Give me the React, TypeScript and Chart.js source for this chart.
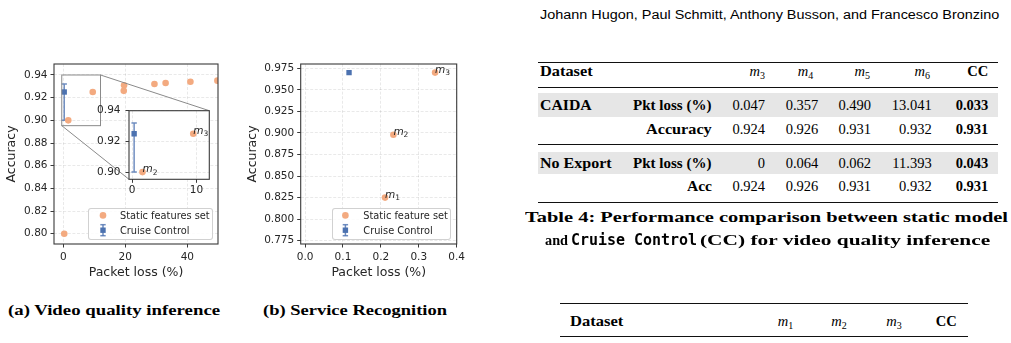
import React, { useEffect, useRef } from 'react';
import { Chart, registerables } from 'chart.js';
Chart.register(...registerables);

// ---------- (a) Video quality inference ----------
const staticLossA = [0.3, 1.6, 9.5, 19.5, 19.6, 29.4, 33.0, 41.0, 49.7];
const staticAccA = [0.800, 0.900, 0.925, 0.926, 0.931, 0.932, 0.933, 0.934, 0.935];
const staticLabelsA = ['', 'm2', 'm3', '', '', '', '', '', ''];
const ccLossA = [0.3];
const ccAccA = [0.925];
const ccErrLowA = [0.900];
const ccErrHighA = [0.932];
const xTicksA = [0, 20, 40];
const yTicksA = [0.80, 0.82, 0.84, 0.86, 0.88, 0.90, 0.92, 0.94];
const xRangeA = [-3, 49.9];
const yRangeA = [0.7909, 0.9497];
const zoomX = [-0.5, 12];
const zoomY = [0.8953, 0.94];
const insetXTicks = [0, 10];
const insetYTicks = [0.90, 0.92, 0.94];

// ---------- (b) Service Recognition ----------
const staticLossB = [0.211, 0.233, 0.343];
const staticAccB = [0.825, 0.898, 0.970];
const staticLabelsB = ['m1', 'm2', 'm3'];
const ccLossB = [0.116];
const ccAccB = [0.970];
const xTicksB = [0, 0.1, 0.2, 0.3, 0.4];
const yTicksB = [0.775, 0.8, 0.825, 0.85, 0.875, 0.9, 0.925, 0.95, 0.975];
const xRangeB = [-0.0115, 0.4];
const yRangeB = [0.7712, 0.980];

// ---------- Table 4 ----------
const table4Subs = ['3', '4', '5', '6'];
const caidaLoss = ['0.047', '0.357', '0.490', '13.041', '0.033'];
const caidaAcc = ['0.924', '0.926', '0.931', '0.932', '0.931'];
const noExportLoss = ['0', '0.064', '0.062', '11.393', '0.043'];
const noExportAcc = ['0.924', '0.926', '0.931', '0.932', '0.931'];
const table5Subs = ['1', '2', '3'];

const ORANGE = 'rgb(243,170,128)';
const BLUE = '#4c72b0';
const BLUE_ERR = 'rgba(76,114,176,0.8)';
const INK = '#262626';
const SERIF = '"Liberation Serif", "Times New Roman", serif';
const SANS = '"Liberation Sans", Arial, sans-serif';
const MONO = '"DejaVu Sans Mono", monospace';

const A_POS = { left: 0, top: 50, w: 228, h: 240 };
const IN_POS = { left: 90, top: 100, w: 125, h: 100 };
const B_POS = { left: 240, top: 50, w: 225, h: 240 };

function axis(o: any) {
  return {
    type: 'linear',
    position: o.isX ? 'bottom' : 'left',
    bounds: 'data',
    min: o.range[0],
    max: o.range[1],
    afterBuildTicks: (s: any) => { s.ticks = o.ticks.map((v: number) => ({ value: v })); },
    afterFit: (s: any) => {
      if (o.isX) { s.height = o.size; s.paddingLeft = 0; s.paddingRight = 0; }
      else { s.width = o.size; s.paddingTop = 0; s.paddingBottom = 0; }
    },
    ticks: {
      autoSkip: false, maxRotation: 0, minRotation: 0,
      padding: o.tickPad ?? 3, color: INK,
      font: { family: 'DejaVu Sans', size: 10.5 },
      callback: (v: any) => Number(v).toFixed(o.dec),
    },
    grid: {
      color: 'rgba(0,0,0,0.11)', lineWidth: 0.8, drawTicks: true,
      tickLength: 3.5, tickWidth: 1, tickColor: '#3a3a3a', tickBorderDash: [],
    },
    border: { display: false, dash: [3, 1.6] },
    title: o.title
      ? { display: true, text: o.title, color: INK, font: { family: 'DejaVu Sans', size: 12.5 }, padding: o.titlePad }
      : { display: false },
  };
}

const framePlugin = {
  id: 'frame',
  afterDraw(chart: any) {
    const { ctx, chartArea: a } = chart;
    ctx.save();
    ctx.strokeStyle = '#3a3a3a';
    ctx.lineWidth = 1.1;
    ctx.strokeRect(a.left, a.top, a.right - a.left, a.bottom - a.top);
    ctx.restore();
  },
};

const whiteBg = {
  id: 'whiteBg',
  beforeDraw(chart: any) {
    const { ctx, chartArea: a } = chart;
    ctx.save();
    ctx.fillStyle = '#ffffff';
    ctx.fillRect(a.left, a.top, a.right - a.left, a.bottom - a.top);
    ctx.restore();
  },
};

const errorBars = (xs: number[], lows: number[], highs: number[]) => ({
  id: 'errorBars',
  beforeDatasetsDraw(chart: any) {
    const { ctx, chartArea: a, scales: { x, y } } = chart;
    ctx.save();
    ctx.beginPath();
    ctx.rect(a.left, a.top, a.right - a.left, a.bottom - a.top);
    ctx.clip();
    ctx.strokeStyle = BLUE_ERR;
    ctx.lineWidth = 1.5;
    xs.forEach((xv, i) => {
      const px = x.getPixelForValue(xv);
      const y1 = y.getPixelForValue(lows[i]);
      const y2 = y.getPixelForValue(highs[i]);
      ctx.beginPath();
      ctx.moveTo(px, y1); ctx.lineTo(px, y2);
      ctx.moveTo(px - 2.7, y1); ctx.lineTo(px + 2.7, y1);
      ctx.moveTo(px - 2.7, y2); ctx.lineTo(px + 2.7, y2);
      ctx.stroke();
    });
    ctx.restore();
  },
});

const pointLabels = (xs: number[], ys: number[], labels: string[]) => ({
  id: 'pointLabels',
  afterDatasetsDraw(chart: any) {
    const { ctx, chartArea: a, scales: { x, y } } = chart;
    ctx.save();
    ctx.fillStyle = INK;
    ctx.textAlign = 'left';
    ctx.textBaseline = 'alphabetic';
    labels.forEach((lab, i) => {
      if (!lab) return;
      const px = x.getPixelForValue(xs[i]);
      const py = y.getPixelForValue(ys[i]);
      if (px < a.left || px > a.right || py < a.top || py > a.bottom) return;
      ctx.font = 'italic 10.5px "DejaVu Sans"';
      ctx.fillText(lab[0], px, py);
      const w = ctx.measureText(lab[0]).width;
      ctx.font = '7.5px "DejaVu Sans"';
      ctx.fillText(lab.slice(1), px + w, py + 2.5);
    });
    ctx.restore();
  },
});

const zoomMarks = (inset: any) => ({
  id: 'zoomMarks',
  afterDatasetsDraw(chart: any) {
    const { ctx, scales: { x, y } } = chart;
    const l = x.getPixelForValue(zoomX[0]);
    const r = x.getPixelForValue(zoomX[1]);
    const t = y.getPixelForValue(zoomY[1]);
    const b = y.getPixelForValue(zoomY[0]);
    const ia = inset.chartArea;
    const dx = IN_POS.left - A_POS.left;
    const dy = IN_POS.top - A_POS.top;
    ctx.save();
    ctx.strokeStyle = '#8a8a8a';
    ctx.lineWidth = 1;
    ctx.strokeRect(l, t, r - l, b - t);
    ctx.beginPath();
    ctx.moveTo(r, t); ctx.lineTo(ia.right + dx, ia.top + dy);
    ctx.moveTo(l, b); ctx.lineTo(ia.left + dx, ia.bottom + dy);
    ctx.stroke();
    ctx.restore();
  },
});

function scatterData(sx: number[], sy: number[], cx: number[], cy: number[]) {
  return {
    datasets: [
      {
        label: 'Static features set',
        data: sx.map((v, i) => ({ x: v, y: sy[i] })),
        pointBackgroundColor: ORANGE, backgroundColor: ORANGE,
        pointBorderWidth: 0, borderWidth: 0, pointRadius: 3.3, clip: 0,
      },
      {
        label: 'Cruise Control',
        data: cx.map((v, i) => ({ x: v, y: cy[i] })),
        pointBackgroundColor: BLUE, backgroundColor: BLUE,
        pointBorderWidth: 0, borderWidth: 0, pointStyle: 'rect', pointRadius: 3.8, clip: 0,
      },
    ],
  };
}

const baseOpts = (padding: any, scales: any) => ({
  responsive: false,
  animation: false,
  events: [],
  layout: { padding },
  plugins: { legend: { display: false }, tooltip: { enabled: false } },
  scales,
});

// --------- text helpers ----------
const mctx = typeof document !== 'undefined' ? document.createElement('canvas').getContext('2d') : null;
function textW(t: string, font: string) {
  if (!mctx) return 0;
  mctx.font = font;
  return mctx.measureText(t).width;
}

function Fit({ x, cy, w, size, weight = 'normal', family = SERIF, segs, color = '#000' }: any) {
  const total = segs.reduce((s: number, g: any) => s + textW(g.t, `${g.weight || weight} ${size}px ${g.family || family}`), 0);
  const sx = total > 0 ? w / total : 1;
  return (
    <div style={{
      position: 'absolute', left: x, top: cy - size / 2, height: size, lineHeight: `${size}px`,
      fontSize: size, whiteSpace: 'pre', transform: `scaleX(${sx})`, transformOrigin: '0 0', color,
    }}>
      {segs.map((g: any, i: number) => (
        <span key={i} style={{ fontFamily: g.family || family, fontWeight: g.weight || weight }}>{g.t}</span>
      ))}
    </div>
  );
}

function RCell({ r, cy, size = 14.5, bold = false, children }: any) {
  return (
    <div style={{
      position: 'absolute', right: 1011 - r, top: cy - size / 2, height: size, lineHeight: `${size}px`,
      fontSize: size, fontFamily: SERIF, fontWeight: bold ? 'bold' : 'normal', whiteSpace: 'nowrap', textAlign: 'right', color: '#000',
    }}>{children}</div>
  );
}

function MathM({ sub }: any) {
  return (
    <span>
      <span style={{ fontStyle: 'italic' }}>m</span>
      <span style={{ fontSize: 10, position: 'relative', top: 3 }}>{sub}</span>
    </span>
  );
}

function Rule({ x1, x2, y, t }: any) {
  return <div style={{ position: 'absolute', left: x1, top: y - t / 2, width: x2 - x1, height: t, background: '#111' }} />;
}

function Band({ x1, x2, y1, y2 }: any) {
  return <div style={{ position: 'absolute', left: x1, top: y1, width: x2 - x1, height: y2 - y1, background: '#e6e6e6' }} />;
}

function Legend({ left, top, width, height, markerCx, textX, labels }: any) {
  const rows = [7.4, 22.2];
  const mx = markerCx - left - 1;
  return (
    <div style={{
      position: 'absolute', left, top, width, height, boxSizing: 'border-box',
      border: '1px solid rgba(204,204,204,0.9)', borderRadius: 3, background: 'rgba(255,255,255,0.85)',
    }}>
      <svg style={{ position: 'absolute', left: 0, top: 0 }} width={width - 2} height={height - 2}>
        <circle cx={mx} cy={rows[0] - 1} r={3.3} fill={ORANGE} />
        <line x1={mx} x2={mx} y1={rows[1] - 1 - 5.5} y2={rows[1] - 1 + 5.5} stroke={BLUE_ERR} strokeWidth={1.5} />
        <line x1={mx - 2.7} x2={mx + 2.7} y1={rows[1] - 1 - 5.5} y2={rows[1] - 1 - 5.5} stroke={BLUE_ERR} strokeWidth={1.5} />
        <line x1={mx - 2.7} x2={mx + 2.7} y1={rows[1] - 1 + 5.5} y2={rows[1] - 1 + 5.5} stroke={BLUE_ERR} strokeWidth={1.5} />
        <rect x={mx - 2.7} y={rows[1] - 1 - 2.7} width={5.4} height={5.4} fill={BLUE} />
      </svg>
      {labels.map((lab: string, i: number) => (
        <div key={i} style={{
          position: 'absolute', left: textX - left - 1, top: rows[i] - 1 - 4.9, height: 9.8, lineHeight: '9.8px',
          fontSize: 9.8, fontFamily: '"DejaVu Sans"', color: INK, whiteSpace: 'nowrap',
        }}>{lab}</div>
      ))}
    </div>
  );
}

export default function App() {
  const aRef = useRef<HTMLCanvasElement>(null);
  const inRef = useRef<HTMLCanvasElement>(null);
  const bRef = useRef<HTMLCanvasElement>(null);

  useEffect(() => {
    const inset: any = new Chart(inRef.current as any, {
      type: 'scatter',
      data: scatterData(staticLossA, staticAccA, ccLossA, ccAccA) as any,
      options: baseOpts({ left: 0, right: 5.7, top: 10.7, bottom: 0 }, {
        x: axis({ range: zoomX, ticks: insetXTicks, dec: 0, size: 20.7, isX: true, tickPad: 1.5 }),
        y: axis({ range: zoomY, ticks: insetYTicks, dec: 2, size: 39, isX: false, tickPad: 5 }),
      }) as any,
      plugins: [whiteBg, errorBars(ccLossA, ccErrLowA, ccErrHighA), pointLabels(staticLossA, staticAccA, staticLabelsA), framePlugin],
    });

    const mainA: any = new Chart(aRef.current as any, {
      type: 'scatter',
      data: scatterData(staticLossA, staticAccA, ccLossA, ccAccA) as any,
      options: baseOpts({ left: 0, right: 10, top: 14, bottom: 0 }, {
        x: axis({ range: xRangeA, ticks: xTicksA, dec: 0, size: 46, isX: true, title: 'Packet loss (%)', titlePad: { top: 0, bottom: 9.5 } }),
        y: axis({ range: yRangeA, ticks: yTicksA, dec: 2, size: 54, isX: false, title: 'Accuracy', titlePad: { top: 4.2, bottom: 0 } }),
      }) as any,
      plugins: [errorBars(ccLossA, ccErrLowA, ccErrHighA), zoomMarks(inset), framePlugin],
    });

    const mainB: any = new Chart(bRef.current as any, {
      type: 'scatter',
      data: scatterData(staticLossB, staticAccB, ccLossB, ccAccB) as any,
      options: baseOpts({ left: 0, right: 8.3, top: 14, bottom: 0 }, {
        x: axis({ range: xRangeB, ticks: xTicksB, dec: 1, size: 46, isX: true, title: 'Packet loss (%)', titlePad: { top: 0, bottom: 9.5 } }),
        y: axis({ range: yRangeB, ticks: yTicksB, dec: 3, size: 60.7, isX: false, title: 'Accuracy', titlePad: { top: 5, bottom: 0 } }),
      }) as any,
      plugins: [pointLabels(staticLossB, staticAccB, staticLabelsB), framePlugin],
    });

    return () => { mainA.destroy(); inset.destroy(); mainB.destroy(); };
  }, []);

  const colRight = [765, 818.3, 871, 931.7, 988.3];
  const headRight = [765, 813.3, 870, 930];
  const t5Right = [793.3, 846.7, 901.7];
  const rowLabelR = 711.7;

  return (
    <div style={{ position: 'fixed', left: 0, top: 0, width: 1011, height: 343, background: '#fff', overflow: 'hidden' }}>
      <canvas ref={aRef} width={A_POS.w} height={A_POS.h} style={{ position: 'absolute', left: A_POS.left, top: A_POS.top }} />
      <canvas ref={inRef} width={IN_POS.w} height={IN_POS.h} style={{ position: 'absolute', left: IN_POS.left, top: IN_POS.top }} />
      <canvas ref={bRef} width={B_POS.w} height={B_POS.h} style={{ position: 'absolute', left: B_POS.left, top: B_POS.top }} />

      <Legend left={88.3} top={208.3} width={125} height={31.7} markerCx={103.3} textX={120} labels={['Static features set', 'Cruise Control']} />
      <Legend left={332.3} top={208.3} width={118.7} height={31.7} markerCx={345.7} textX={363.3} labels={['Static feature set', 'Cruise Control']} />

      <Fit x={8.3} cy={310.5} w={212.4} size={15} weight="bold" segs={[{ t: '(a) Video quality inference' }]} />
      <Fit x={263.3} cy={310.5} w={184} size={15} weight="bold" segs={[{ t: '(b) Service Recognition' }]} />

      <Fit x={540} cy={15} w={460} size={12} family={SANS} segs={[{ t: 'Johann Hugon, Paul Schmitt, Anthony Busson, and Francesco Bronzino' }]} />

      {/* Table 4 */}
      <Rule x1={538} x2={998} y={62.5} t={1.3} />
      <Fit x={540} cy={71.5} w={52.7} size={14.5} weight="bold" segs={[{ t: 'Dataset' }]} />
      {table4Subs.map((s, i) => (
        <RCell key={s} r={headRight[i]} cy={71.5}><MathM sub={s} /></RCell>
      ))}
      <RCell r={colRight[4]} cy={71.5} bold>CC</RCell>
      <Rule x1={538} x2={998} y={87.3} t={0.9} />

      <Band x1={538} x2={998} y1={93.3} y2={116.7} />
      <Fit x={540} cy={105} w={51.7} size={14.5} weight="bold" segs={[{ t: 'CAIDA' }]} />
      <Fit x={rowLabelR - 78.4} cy={105} w={78.4} size={14.5} weight="bold" segs={[{ t: 'Pkt loss (%)' }]} />
      {caidaLoss.map((v, i) => <RCell key={i} r={colRight[i]} cy={105} bold={i === 4}>{v}</RCell>)}

      <Fit x={rowLabelR - 65.7} cy={129} w={65.7} size={14.5} weight="bold" segs={[{ t: 'Accuracy' }]} />
      {caidaAcc.map((v, i) => <RCell key={i} r={colRight[i]} cy={129} bold={i === 4}>{v}</RCell>)}
      <Rule x1={538} x2={998} y={144.8} t={0.9} />

      <Band x1={538} x2={998} y1={152} y2={174.2} />
      <Fit x={540} cy={163.3} w={71.7} size={14.5} weight="bold" segs={[{ t: 'No Export' }]} />
      <Fit x={rowLabelR - 78.4} cy={163.3} w={78.4} size={14.5} weight="bold" segs={[{ t: 'Pkt loss (%)' }]} />
      {noExportLoss.map((v, i) => <RCell key={i} r={colRight[i]} cy={163.3} bold={i === 4}>{v}</RCell>)}

      <Fit x={rowLabelR - 25} cy={186.7} w={25} size={14.5} weight="bold" segs={[{ t: 'Acc' }]} />
      {noExportAcc.map((v, i) => <RCell key={i} r={colRight[i]} cy={186.7} bold={i === 4}>{v}</RCell>)}
      <Rule x1={538} x2={998} y={202.5} t={1.3} />

      <Fit x={525} cy={217} w={483} size={15} weight="bold" segs={[{ t: 'Table 4: Performance comparison between static model' }]} />
      <Fit x={545} cy={240.5} w={23} size={15} weight="bold" segs={[{ t: 'and' }]} />
      <Fit x={571} cy={240.5} w={126} size={15} weight="bold" family={MONO} segs={[{ t: 'Cruise Control' }]} />
      <Fit x={699.5} cy={240.5} w={290.5} size={15} weight="bold" segs={[{ t: '(CC) for video quality inference' }]} />

      {/* Table 5 (header) */}
      <Rule x1={560} x2={968.3} y={303.5} t={1.3} />
      <Fit x={570} cy={321.7} w={53.3} size={14.5} weight="bold" segs={[{ t: 'Dataset' }]} />
      {table5Subs.map((s, i) => (
        <RCell key={s} r={t5Right[i]} cy={321.7}><MathM sub={s} /></RCell>
      ))}
      <RCell r={956.7} cy={321.7} bold>CC</RCell>
      <Rule x1={560} x2={968.3} y={336.7} t={0.9} />
    </div>
  );
}
